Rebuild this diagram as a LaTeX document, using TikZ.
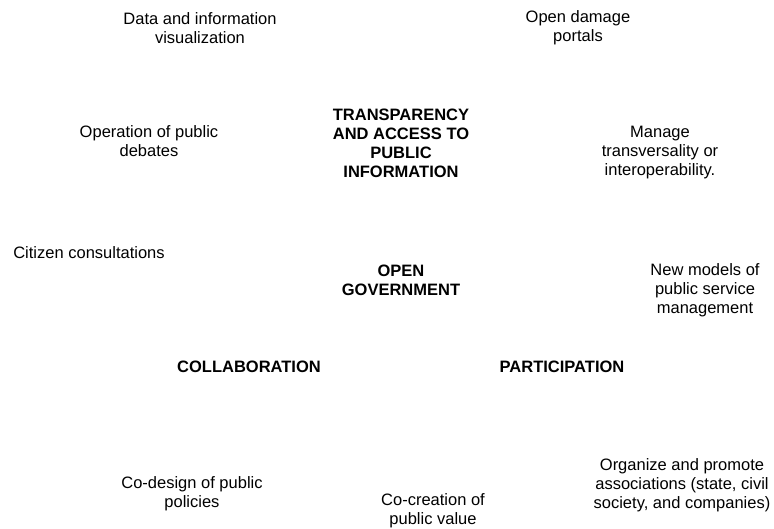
\documentclass[tikz,border=0pt]{standalone}
\usepackage{fontspec}
\setmainfont{Liberation Sans}
\usepackage{tikz}
\usetikzlibrary{positioning}
\tikzset{
    mytext/.style = {align=center, inner sep=0pt, font=\fontsize{16.5}{19}\selectfont},
    mytextb/.style = {mytext, font=\fontsize{16.5}{19}\selectfont\bfseries}, % the pillars
}

\begin{document}
\begin{tikzpicture}[x=1pt,y=1pt]
\useasboundingbox (0,0) rectangle (774,-529);
%
\node[mytextb] at (401,-143) (tr) {TRANSPARENCY\\AND ACCESS TO\\PUBLIC\\INFORMATION};
\node[mytextb] at (401,-280) (og) {OPEN\\GOVERNMENT};
\node[mytextb] at (249,-367) (co) {COLLABORATION};
\node[mytextb] at (562,-367) (pa) {PARTICIPATION};
%
\node[mytext] at (200,-28) (dv) {Data and information\\visualization};
\node[mytext] at (578,-28) (dp) {Open damage\\portals};
\node[mytext] at (149,-141) (pd) {Operation of public\\debates};
\node[mytext] at (660,-153) (mt) {Manage\\transversality or\\interoperability.};
\node[mytext] at (89,-253) (cc) {Citizen consultations};
\node[mytext] at (705,-290) (nm) {New models of\\public service\\management};
\node[mytext] at (682,-485) (oa) {Organize and promote\\associations (state, civil\\society, and companies)};
\node[mytext] at (192,-494) (cd) {Co-design of public\\policies};
\node[mytext] at (433,-511) (cv) {Co-creation of\\public value};
\end{tikzpicture}
\end{document}
